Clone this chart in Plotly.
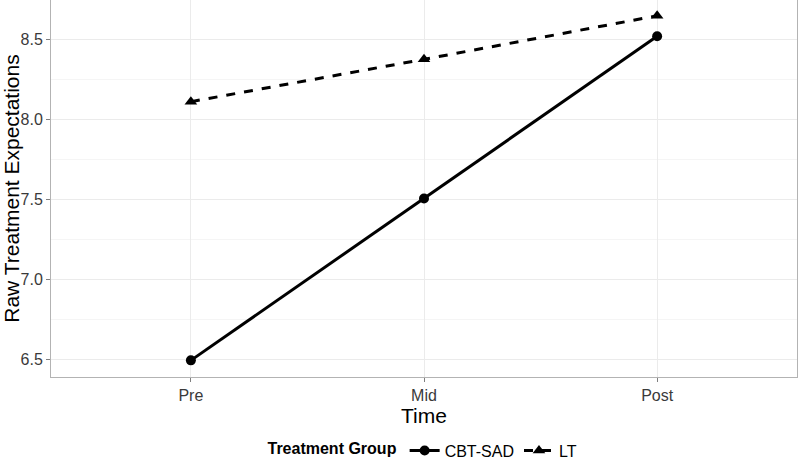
import plotly.graph_objects as go

times = ["Pre", "Mid", "Post"]
cbt_sad = [6.495, 7.507, 8.522]
lt = [8.113, 8.378, 8.650]
y_ticks = [6.5, 7.0, 7.5, 8.0, 8.5]
y_tick_labels = ["6.5", "7.0", "7.5", "8.0", "8.5"]

FONT = "Liberation Sans, Arial, Helvetica, sans-serif"

fig = go.Figure()
fig.add_trace(go.Scatter(
    x=times, y=cbt_sad, name="CBT-SAD", mode="lines+markers",
    line=dict(color="black", width=3, dash="solid"),
    marker=dict(symbol="circle", size=10, color="black"),
))
fig.add_trace(go.Scatter(
    x=times, y=lt, name="LT", mode="lines+markers",
    line=dict(color="black", width=3, dash="dash"),
    marker=dict(symbol="triangle-up", size=11, color="black"),
))

fig.update_layout(
    width=800, height=468,
    margin=dict(l=51, r=3, t=0, b=86),
    paper_bgcolor="white", plot_bgcolor="white",
    font=dict(family=FONT, color="black"),
    showlegend=True,
    legend=dict(
        orientation="h", x=0.5, xanchor="center", y=-0.195, yanchor="middle",
        title=dict(text="<b>Treatment Group</b>", font=dict(size=16, color="black"), side="left"),
        font=dict(size=16, color="black"),
        itemwidth=30,
    ),
    xaxis=dict(
        title=dict(text="Time", font=dict(size=21, color="black"), standoff=0),
        categoryorder="array", categoryarray=times,
        range=[-0.6, 2.6], automargin=False,
        showgrid=True, gridcolor="#ebebeb", gridwidth=1,
        ticks="outside", ticklen=4, tickcolor="#7f7f7f",
        tickfont=dict(size=16, color="#3a3a3a"),
        showline=True, linecolor="#b3b3b3", linewidth=1, mirror=True,
        zeroline=False,
    ),
    yaxis=dict(
        title=dict(text="Raw Treatment Expectations", font=dict(size=21, color="black"), standoff=4),
        range=[6.391, 8.749], automargin=False,
        tickvals=y_ticks, ticktext=y_tick_labels,
        showgrid=True, gridcolor="#ebebeb", gridwidth=1,
        minor=dict(dtick=0.25, tick0=6.25, showgrid=True, gridcolor="#f5f5f5", gridwidth=1, ticks=""),
        ticks="outside", ticklen=4, tickcolor="#7f7f7f",
        tickfont=dict(size=16, color="#3a3a3a"),
        showline=True, linecolor="#b3b3b3", linewidth=1, mirror=True,
        zeroline=False,
    ),
)

fig.write_html(
    "out.html", config={"displayModeBar": False},
    post_script=(
        "document.body.style.margin='0';"
        "document.body.style.overflow='hidden';"
        "document.documentElement.style.overflow='hidden';"
    ),
)
